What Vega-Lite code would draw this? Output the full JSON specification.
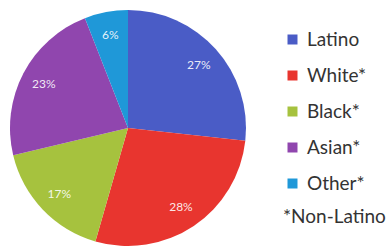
{
  "$schema": "https://vega.github.io/schema/vega-lite/v6.json",
  "width": 256,
  "height": 248,
  "autosize": "none",
  "padding": {"left": 0, "top": 4, "right": 133, "bottom": 0},
  "background": "white",
  "config": {"view": {"stroke": null}, "font": "Lato"},
  "data": {"values": [
    {"group": "Latino", "share": 0.27, "order": 1},
    {"group": "White*", "share": 0.28, "order": 2},
    {"group": "Black*", "share": 0.17, "order": 3},
    {"group": "Asian*", "share": 0.23, "order": 4},
    {"group": "Other*", "share": 0.06, "order": 5}
  ]},
  "encoding": {
    "theta": {"field": "share", "type": "quantitative", "stack": true},
    "order": {"field": "order", "type": "quantitative"},
    "color": {
      "field": "group", "type": "nominal",
      "sort": ["Latino", "White*", "Black*", "Asian*", "Other*"],
      "scale": {"domain": ["Latino", "White*", "Black*", "Asian*", "Other*"],
                "range": ["#4a5cc6", "#e8352f", "#a6c23e", "#9046ae", "#1f98d8"]},
      "legend": {
        "title": "*Non-Latino",
        "titleOrient": "bottom",
        "titleAnchor": "start",
        "titleFontWeight": "normal",
        "titleFontSize": 19,
        "titleColor": "#333333",
        "titleFont": "Lato",
        "titlePadding": 14,
        "orient": "none",
        "legendX": 283,
        "legendY": 26,
        "symbolType": "square",
        "symbolSize": 100,
        "symbolStrokeWidth": 0,
        "labelFontSize": 19,
        "labelColor": "#333333",
        "labelFont": "Lato",
        "labelOffset": 5,
        "rowPadding": 16
      }
    }
  },
  "layer": [
    {"mark": {"type": "arc", "outerRadius": 118}},
    {"mark": {"type": "text", "radius": 95, "fill": "white", "fillOpacity": 0.9, "fontSize": 12, "font": "Lato"},
     "encoding": {"text": {"field": "share", "type": "quantitative", "format": ".0%"}, "color": {"value": "white"}}}
  ]
}
